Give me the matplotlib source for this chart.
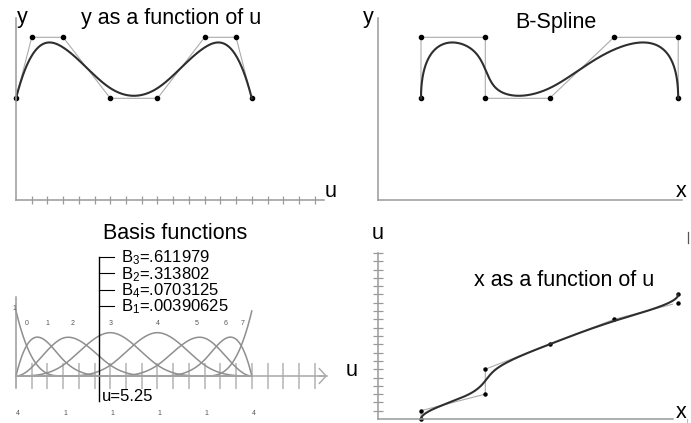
import numpy as np
import matplotlib
matplotlib.use("Agg")
import matplotlib.pyplot as plt
from matplotlib.lines import Line2D
from matplotlib.transforms import blended_transform_factory

plt.rcParams['font.family'] = ['Liberation Sans', 'DejaVu Sans']
plt.rcParams['mathtext.fontset'] = 'custom'
plt.rcParams['mathtext.rm'] = 'Liberation Sans'
plt.rcParams['mathtext.default'] = 'regular'

# cubic B-spline: clamped knot vector and 8 control points
degree = 3
knots = [0, 0, 0, 0, 1, 2, 3, 4, 5, 5, 5, 5]
ctrl_x = [0, 0, 1, 1, 2, 3, 4, 4]
ctrl_y = [2.5, 4, 4, 2.5, 2.5, 4, 4, 2.5]
u_per_knot = 3          # u axis ticks per knot interval
u_probe = 5.25
u_ticks_top = list(range(1, 20))
u_ticks_basis = list(range(1, 20))
u_ticks_side = list(range(1, 21))
basis_label_u = [0.7, 2.0, 3.6, 6.0, 9.0, 11.5, 13.3, 14.4]

W, H = 691, 423
AXIS = '#9a9a9a'
POLY = '#ababab'
CURVE = '#2e2e2e'
BASIS = '#8f8f8f'


def bspline_basis(knots, p, t):
    knots = np.asarray(knots, float)
    t = np.atleast_1d(np.asarray(t, float))
    m = len(knots) - 1
    N = np.zeros((m, t.size))
    for i in range(m):
        if knots[i] < knots[i + 1]:
            N[i] = (t >= knots[i]) & (t < knots[i + 1])
    last = max(i for i in range(m) if knots[i] < knots[i + 1])
    N[last, t == knots[-1]] = 1
    for d in range(1, p + 1):
        M = np.zeros((m - d, t.size))
        for i in range(m - d):
            a = knots[i + d] - knots[i]
            b = knots[i + d + 1] - knots[i + 1]
            if a > 0:
                M[i] += (t - knots[i]) / a * N[i]
            if b > 0:
                M[i] += (knots[i + d + 1] - t) / b * N[i + 1]
        N = M
    return N


def panel(left, top, right, bottom):
    ax = fig.add_axes([left / W, 1 - bottom / H, (right - left) / W, (bottom - top) / H])
    ax.patch.set_visible(False)
    for s in ('top', 'right'):
        ax.spines[s].set_visible(False)
    for s in ('left', 'bottom'):
        ax.spines[s].set_color(AXIS)
        ax.spines[s].set_linewidth(1.1)
    ax.set_xticks([])
    ax.set_yticks([])
    return ax


def label(x, y, s, size=15.5, **kw):
    kw.setdefault('ha', 'center')
    kw.setdefault('va', 'baseline')
    fig.text(x / W, 1 - y / H, s, fontsize=size, **kw)


t = np.linspace(knots[0], knots[-1], 600)
N = bspline_basis(knots, degree, t)
cx, cy = np.array(ctrl_x, float), np.array(ctrl_y, float)
curve_x = cx @ N
curve_y = cy @ N
u = t * u_per_knot
greville = np.array([np.mean(knots[i + 1:i + degree + 1]) for i in range(len(ctrl_x))]) * u_per_knot

fig = plt.figure(figsize=(W / 100, H / 100), dpi=100)

# y as a function of u
ax1 = panel(16, 18, 324, 200)
ax1.set_xlim(0, 308 / 15.72)
ax1.set_ylim(0, 182 / 40.67)
ax1.set_xticks(u_ticks_top)
ax1.tick_params(axis='x', direction='inout', length=5.8, width=0.9, color=AXIS, labelbottom=False)
ax1.plot(greville, cy, color=POLY, lw=0.8)
ax1.plot(greville, cy, 'o', color='k', ms=3, clip_on=False)
ax1.plot(u, curve_y, color=CURVE, lw=1.5, clip_on=False)
label(22, 22.5, 'y')
label(171, 24, 'y as a function of u')
label(331, 197, 'u')

# the curve itself
ax2 = panel(378, 18, 682, 200)
ax2.set_xlim(-43 / 64.3, 261 / 64.3)
ax2.set_ylim(0, 182 / 40.67)
ax2.plot(cx, cy, color=POLY, lw=0.8)
ax2.plot(cx, cy, 'o', color='k', ms=3, clip_on=False)
ax2.plot(curve_x, curve_y, color=CURVE, lw=1.5, clip_on=False)
label(368, 23.5, 'y')
label(556, 28, 'B-Spline')
label(681, 197, 'x')

# basis functions
ax3 = panel(16, 297, 327, 388)
ax3.set_xlim(0, 311 / 15.72)
ax3.set_ylim(-12 / 65, 79 / 65)
ax3.spines['bottom'].set_position(('data', 0))
ax3.spines['bottom'].set_color('#a8a8a8')
ax3.set_xticks(u_ticks_basis)
ax3.tick_params(axis='x', direction='inout', length=18.7, width=1.1, color='#b4b4b4', labelbottom=False)
ax3.annotate('', xy=(ax3.get_xlim()[1], 0), xytext=(ax3.get_xlim()[1] - 0.5, 0),
             arrowprops=dict(arrowstyle='->,head_length=0.5,head_width=0.55', color='#a8a8a8', lw=1.0,
                             shrinkA=0, shrinkB=0), annotation_clip=False)
for row in N:
    ax3.plot(u, row, color=BASIS, lw=1.1, clip_on=False)
for i, bu in enumerate(basis_label_u):
    label(16 + bu * 15.72, 325, str(i), size=5, color='#555555')
label(14, 310, '1', size=5, color='#555555')
kv, mult = np.unique(knots, return_counts=True)
for k, mlt in zip(kv, mult):
    label(18 + k * u_per_knot * 15.72, 415, str(mlt), size=5, color='#555555')

# values of the basis functions at u_probe
Np = bspline_basis(knots, degree, u_probe / u_per_knot)[:, 0]
order = [i for i in np.argsort(-Np) if Np[i] > 0]
ax3.axvline(u_probe, ymin=(388 - 401) / 91, ymax=(388 - 257) / 91, color='k', lw=1.0, clip_on=False)
tr = blended_transform_factory(ax3.transData, ax3.transAxes)
for j, i in enumerate(order):
    yp = 257.3 + 16.1 * j
    ax3.plot([u_probe, u_probe + 15 / 15.72], [(388 - yp) / 91] * 2, color='k', lw=0.8,
             transform=tr, clip_on=False)
    label(121, yp + 5.4, 'B$_{%d}$=%s' % (i, ('%.6g' % Np[i])[1:]), size=12, ha='left')
label(102, 401, 'u=%g' % u_probe, size=12, ha='left')
label(175, 239, 'Basis functions')

# x as a function of u
ax4 = panel(378, 253, 673, 419)
ax4.set_xlim(-43 / 64.3, 252 / 64.3)
ax4.set_ylim(0, 20)
ax4.set_yticks(u_ticks_side)
ax4.tick_params(axis='y', direction='inout', length=7.2, width=0.9, color=AXIS, labelleft=False)
ax4.plot(cx, greville, color=POLY, lw=0.8)
ax4.plot(cx, greville, 'o', color='k', ms=2.2, clip_on=False)
ax4.plot(curve_x, u, color=CURVE, lw=1.5, clip_on=False)
label(378, 239, 'u')
label(352, 376, 'u')
label(564, 286, 'x as a function of u')
label(681, 418, 'x')
fig.add_artist(Line2D([688 / W] * 2, [1 - 232 / H, 1 - 243 / H], color='#555555', lw=0.9))
fig.add_artist(Line2D([687 / W] * 2, [1 - 419 / H, 1 - 423 / H], color='#bbbbbb', lw=0.8))

fig.savefig('out.png', dpi=100)
